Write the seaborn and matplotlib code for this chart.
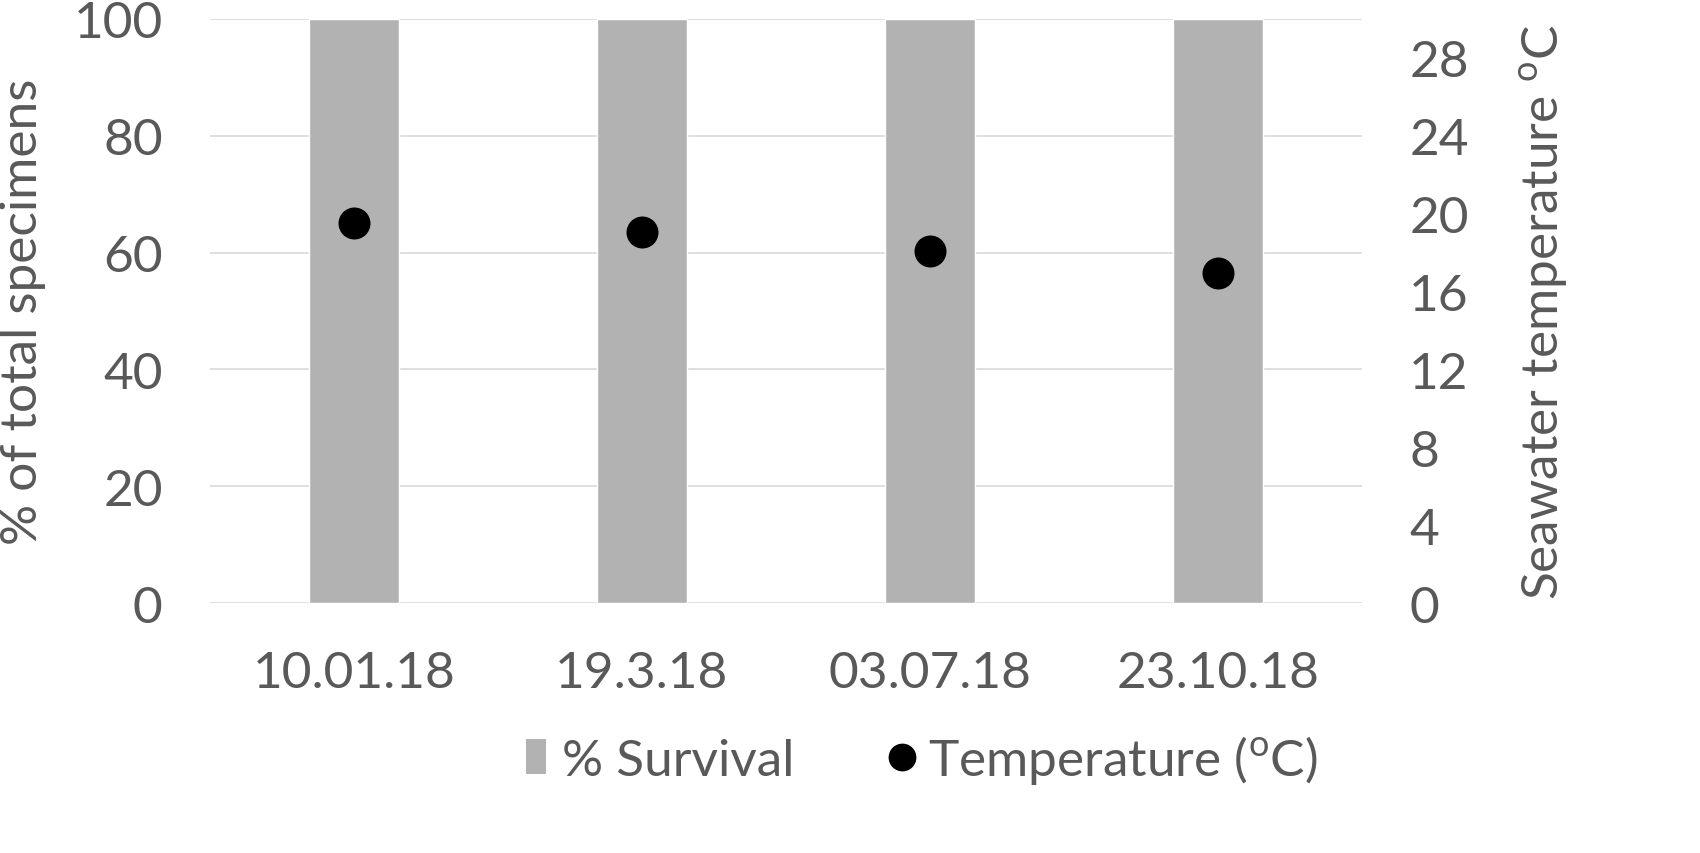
import numpy as np
import pandas as pd
import matplotlib
matplotlib.use("Agg")
import matplotlib.pyplot as plt
import seaborn as sns
from matplotlib.patches import Patch
from matplotlib.lines import Line2D

# data
dates = ["10.01.18", "19.3.18", "03.07.18", "23.10.18"]
survival = [100, 100, 100, 100]
temperature = [19.5, 19.05, 18.1, 16.95]

df = pd.DataFrame({"date": dates, "survival": survival, "temp": temperature})

sns.set_style("white")
plt.rcParams['font.family'] = ['Lato', 'DejaVu Sans']
plt.rcParams['mathtext.fontset'] = 'custom'
plt.rcParams['mathtext.rm'] = 'Lato'

txt = '#595959'
fs = 37
fig = plt.figure(figsize=(17, 8.54), dpi=100)
ax = fig.add_axes([0.1235, 0.2927, 0.8012 - 0.1235, 0.9766 - 0.2927])

sns.barplot(data=df, x="date", y="survival", color="#b2b2b2", saturation=1,
            width=0.3125, ax=ax, zorder=2)
ax.set_ylim(0, 100)
ax.set_xlim(-0.5, 3.5)
ax.set_yticks(np.arange(0, 101, 20))
ax.yaxis.grid(True, color="#d9d9d9", linewidth=1.2, zorder=0)
ax.set_axisbelow(True)
for s in ax.spines.values():
    s.set_visible(False)
ax.tick_params(axis='both', length=0, labelsize=fs, colors=txt, pad=34)
ax.tick_params(axis='x', pad=34)
ax.set_xlabel("")
ax.set_ylabel("% of total specimens", fontsize=fs, color=txt, labelpad=20)

ax2 = ax.twinx()
sns.pointplot(data=df, x="date", y="temp", color="black", linestyle="none",
              errorbar=None, markers="o", markersize=21, ax=ax2)
ax2.set_ylim(0, 30)
ax2.set_yticks(np.arange(0, 29, 4))
for s in ax2.spines.values():
    s.set_visible(False)
ax2.tick_params(axis='y', length=0, labelsize=fs, colors=txt, pad=34)
ax2.set_ylabel("Seawater temperature $^{\\rm o}$C", fontsize=fs, color=txt, labelpad=36)
ax2.set_xlim(-0.5, 3.5)

handles = [Patch(facecolor="#b2b2b2", edgecolor="none"),
           Line2D([], [], marker="o", color="black", linestyle="none", markersize=19)]
fig.legend(handles, ["% Survival", "Temperature ($^{\\rm o}$C)"], loc="center",
           bbox_to_anchor=(0.542, 0.11), ncol=2, frameon=False, fontsize=fs,
           labelcolor=txt, handlelength=0.4, handleheight=0.67, handletextpad=0.3,
           columnspacing=1.9)

fig.savefig("out.png", dpi=100)
